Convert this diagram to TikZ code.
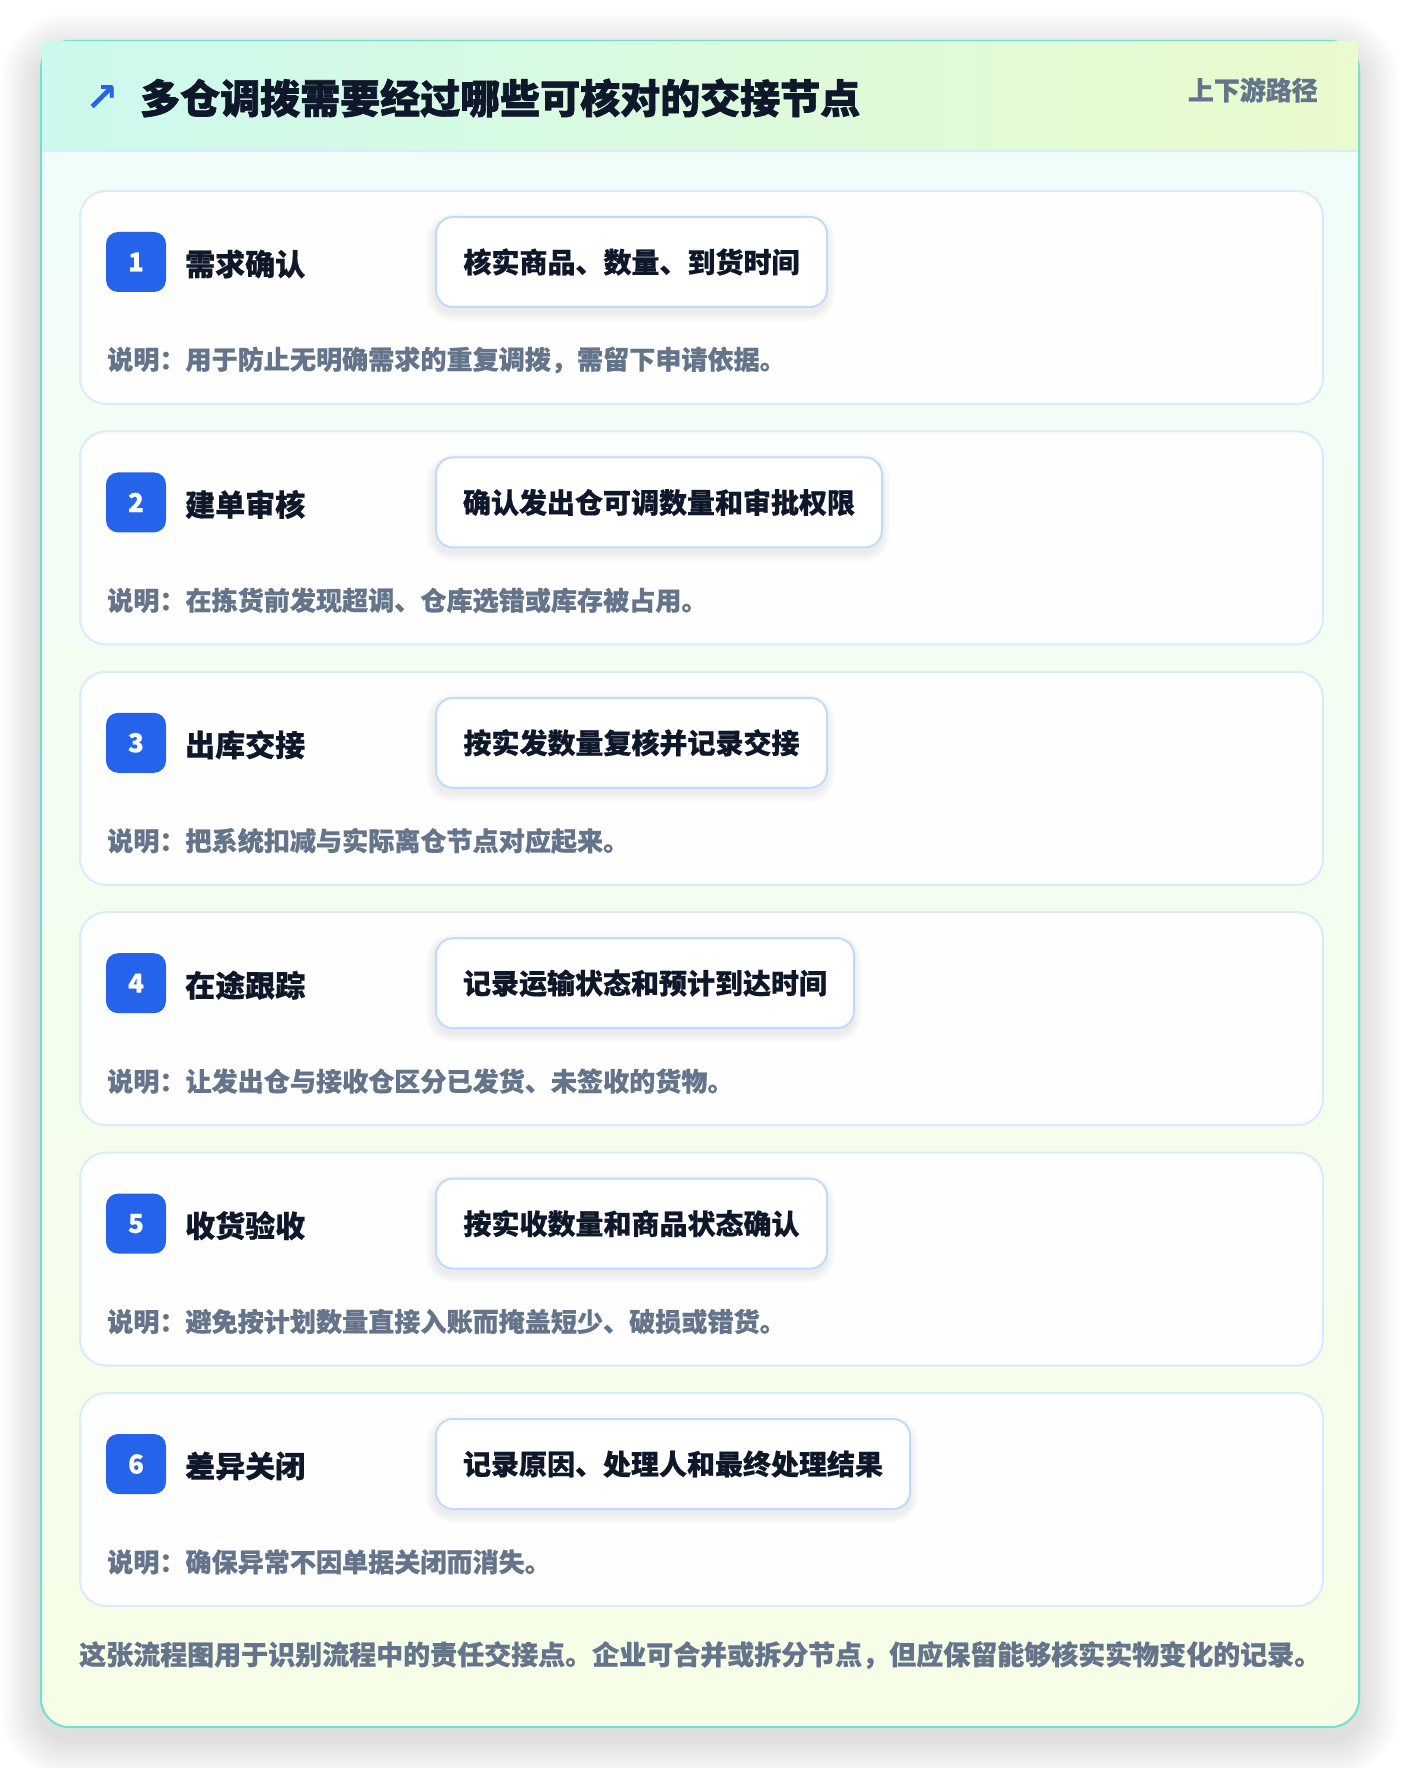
\documentclass[tikz,border=0pt]{standalone}
\usepackage{fontspec}
\setmainfont{Noto Sans CJK SC}[BoldFeatures={FakeBold=0.6}]
\newfontfamily\heavyfont{Noto Sans CJK SC}[BoldFeatures={FakeBold=1.6}]
\newfontfamily\symfont{DejaVu Sans}
\definecolor{ink}{HTML}{0F172A}
\definecolor{muted}{HTML}{64748B}
\definecolor{brand}{HTML}{2563EB}
\definecolor{cardedge}{HTML}{6EE2CF}
\definecolor{hdrL}{HTML}{CCF9EE}
\definecolor{hdrR}{HTML}{EAFBCD}
\definecolor{bodyT}{HTML}{F0FDF9}
\definecolor{bodyB}{HTML}{F7FEE7}
\definecolor{lineblue}{HTML}{DBEAFE}
\definecolor{boxedge}{HTML}{BFDBFE}
\tikzset{
  stepcard/.style={draw=lineblue, line width=2pt, fill=white, fill opacity=0.96, rounded corners=26pt, minimum width=1243pt, minimum height=213pt, inner sep=0pt, anchor=north west},
  badge/.style={fill=brand, rounded corners=12pt, minimum width=60pt, minimum height=60pt, inner sep=0pt, text=white, font=\fontsize{26}{28}\selectfont\bfseries},
  steptitle/.style={anchor=west, inner sep=0pt, text=ink, font=\fontsize{30}{34}\selectfont\bfseries},
  checkbox/.style={anchor=west, draw=boxedge, line width=2pt, fill=white, rounded corners=17pt, inner sep=0pt, minimum height=90pt, align=center, text=ink, font=\fontsize{28}{32}\selectfont\bfseries},
  desctext/.style={anchor=west, inner sep=0pt, text=muted, font=\fontsize{26.1}{30}\selectfont\bfseries},
}
\newcommand\boxshadow[2]{%
  \foreach \k in {1,...,6}{%
    \fill[black, opacity=0.010, rounded corners={17+1.5*\k}] ({435-1.5*\k},{#1+32-1.5*\k}) rectangle ({435+#2+1.5*\k},{#1+122+1.5*\k});}}
\begin{document}
\begin{tikzpicture}[x=1pt, y=-1pt]
\useasboundingbox (0,0) rectangle (1400,1768);
\fill[white] (0,0) rectangle (1400,1768);
% outer card shadow
\foreach \k in {1,...,16}{%
  \fill[black, opacity=0.006, rounded corners={28+2.5*\k}] ({41-2.5*\k},{53-2.5*\k}) rectangle ({1359+2.5*\k},{1739+2.5*\k});}
% outer card
\shade[top color=bodyT, bottom color=bodyB, rounded corners=28pt] (41,41) rectangle (1359,1727);
\draw[cardedge, line width=2pt, rounded corners=28pt] (41,41) rectangle (1359,1727);
% header band
\shade[left color=hdrL, right color=hdrR] (42,42) rectangle (1358,151);
\draw[lineblue, line width=2pt] (42,151) -- (1358,151);
\node[text=brand, inner sep=0pt, font=\symfont\bfseries\fontsize{40}{44}\selectfont] (icon) at (102,99) {↗};
\node[anchor=west, inner sep=0pt, text=ink, font=\heavyfont\fontsize{40}{48}\selectfont\bfseries] (title) at (140,98) {多仓调拨需要经过哪些可核对的交接节点};
\node[anchor=east, inner sep=0pt, text=muted, font=\fontsize{26}{30}\selectfont\bfseries] (tag) at (1318,90) {上下游路径};
% step 1
\node[stepcard] (card1) at (79,190) {};
\node[badge] (badge1) at (136,262) {1};
\node[steptitle] (stitle1) at (185,264) {需求确认};
\boxshadow{190}{391}
\node[checkbox, minimum width=391pt] (check1) at (435,262) {核实商品、数量、到货时间};
\node[desctext] (desc1) at (107,360) {说明：用于防止无明确需求的重复调拨，需留下申请依据。};
% step 2
\node[stepcard] (card2) at (79,430.4) {};
\node[badge] (badge2) at (136,502.4) {2};
\node[steptitle] (stitle2) at (185,504.4) {建单审核};
\boxshadow{430.4}{446}
\node[checkbox, minimum width=446pt] (check2) at (435,502.4) {确认发出仓可调数量和审批权限};
\node[desctext] (desc2) at (107,600.4) {说明：在拣货前发现超调、仓库选错或库存被占用。};
% step 3
\node[stepcard] (card3) at (79,670.8) {};
\node[badge] (badge3) at (136,742.8) {3};
\node[steptitle] (stitle3) at (185,744.8) {出库交接};
\boxshadow{670.8}{391}
\node[checkbox, minimum width=391pt] (check3) at (435,742.8) {按实发数量复核并记录交接};
\node[desctext] (desc3) at (107,840.8) {说明：把系统扣减与实际离仓节点对应起来。};
% step 4
\node[stepcard] (card4) at (79,911.2) {};
\node[badge] (badge4) at (136,983.2) {4};
\node[steptitle] (stitle4) at (185,985.2) {在途跟踪};
\boxshadow{911.2}{418}
\node[checkbox, minimum width=418pt] (check4) at (435,983.2) {记录运输状态和预计到达时间};
\node[desctext] (desc4) at (107,1081.2) {说明：让发出仓与接收仓区分已发货、未签收的货物。};
% step 5
\node[stepcard] (card5) at (79,1151.6) {};
\node[badge] (badge5) at (136,1223.6) {5};
\node[steptitle] (stitle5) at (185,1225.6) {收货验收};
\boxshadow{1151.6}{391}
\node[checkbox, minimum width=391pt] (check5) at (435,1223.6) {按实收数量和商品状态确认};
\node[desctext] (desc5) at (107,1321.6) {说明：避免按计划数量直接入账而掩盖短少、破损或错货。};
% step 6
\node[stepcard] (card6) at (79,1392) {};
\node[badge] (badge6) at (136,1464) {6};
\node[steptitle] (stitle6) at (185,1466) {差异关闭};
\boxshadow{1392}{474}
\node[checkbox, minimum width=474pt] (check6) at (435,1464) {记录原因、处理人和最终处理结果};
\node[desctext] (desc6) at (107,1562) {说明：确保异常不因单据关闭而消失。};
% footnote
\node[anchor=west, inner sep=0pt, text=muted, font=\fontsize{27}{31}\selectfont\bfseries] (note) at (79,1655) {这张流程图用于识别流程中的责任交接点。企业可合并或拆分节点，但应保留能够核实实物变化的记录。};
\end{tikzpicture}
\end{document}
